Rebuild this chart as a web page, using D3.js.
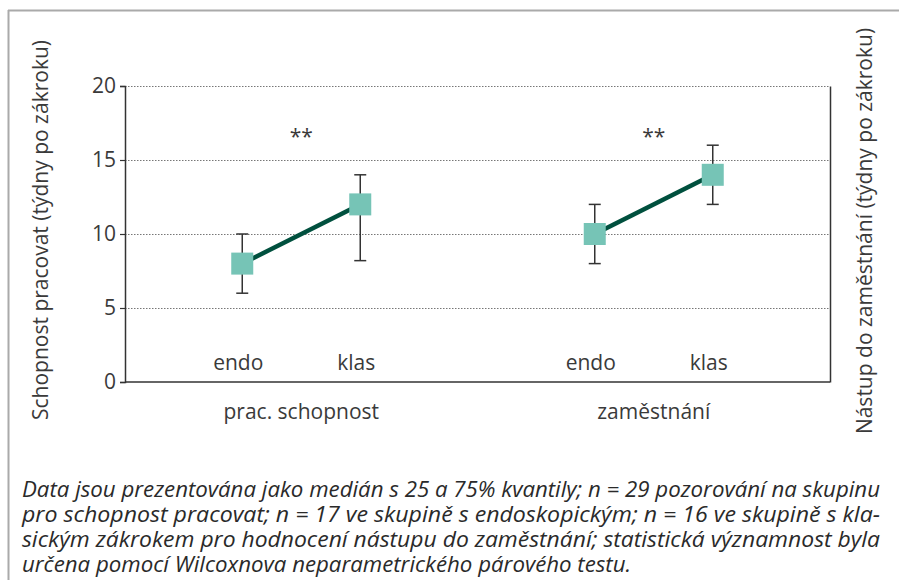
<!DOCTYPE html>
<html>
<head>
<meta charset="utf-8">
<script src="https://cdn.jsdelivr.net/npm/d3@7"></script>
<style>
  body { margin: 0; background: #fff; }
  svg { display: block; }
  text { font-family: "Open Sans", "Noto Sans", sans-serif; fill: #3a3a3a; }
  .caption { font-family: "Open Sans", "Noto Sans", sans-serif; font-style: italic; font-size: 21px; fill: #2a2a2a; }
</style>
</head>
<body>
<div id="chart"></div>
<script>
// data
const groups = ["prac. schopnost", "zaměstnání"];
const subgroups = ["endo", "klas"];
const medians = [[8, 12], [10, 14]];
const q25 = [[6, 8.2], [8, 12]];
const q75 = [[10, 14], [12, 16]];
const significance = ["**", "**"];
const yTicks = [0, 5, 10, 15, 20];
const leftTitle = "Schopnost pracovat (týdny po zákroku)";
const rightTitle = "Nástup do zaměstnání (týdny po zákroku)";
const captionLines = [
  "Data jsou prezentována jako medián s 25 a 75% kvantily; n = 29 pozorování na skupinu",
  "pro schopnost pracovat; n = 17 ve skupině s endoskopickým; n = 16 ve skupině s kla-",
  "sickým zákrokem pro hodnocení nástupu do zaměstnání; statistická významnost byla",
  "určena pomocí Wilcoxnova neparametrického párového testu."
];

const width = 899, height = 580;
const margin = {top: 86, right: 69, bottom: 198, left: 125};
const innerW = width - margin.left - margin.right;
const innerH = height - margin.top - margin.bottom;

const svg = d3.select("#chart").append("svg")
  .attr("width", width)
  .attr("height", height);

// outer frame (top and left edges visible)
svg.append("line").attr("x1", 8).attr("x2", width).attr("y1", 10.5).attr("y2", 10.5)
  .attr("stroke", "#aaa").attr("stroke-width", 2);
svg.append("line").attr("x1", 8.5).attr("x2", 8.5).attr("y1", 10).attr("y2", height)
  .attr("stroke", "#aaa").attr("stroke-width", 2);

const chart = svg.append("g")
  .attr("transform", `translate(${margin.left}, ${margin.top})`);

const x0 = d3.scaleBand().domain(groups).range([0, innerW]);
const x1 = d3.scalePoint().domain(subgroups).range([-59, 59]);
const y = d3.scaleLinear().domain([0, 20]).range([innerH, 0]);

// dotted grid
chart.append("g")
  .selectAll("line")
  .data(yTicks.filter(d => d > 0))
  .enter().append("line")
  .attr("x1", 0).attr("x2", innerW)
  .attr("y1", d => y(d) + 0.5).attr("y2", d => y(d) + 0.5)
  .attr("stroke", "#777")
  .attr("stroke-width", 1)
  .attr("stroke-dasharray", "1.5,1.5");

// left axis
const yAxis = chart.append("g")
  .call(d3.axisLeft(y).tickValues(yTicks).tickSize(5).tickPadding(4));
yAxis.select(".domain").attr("stroke", "#333").attr("stroke-width", 1.5);
yAxis.selectAll(".tick line").attr("stroke", "#333").attr("stroke-width", 1.2);
yAxis.selectAll(".tick text")
  .style("font-family", "'Open Sans', 'Noto Sans', sans-serif")
  .style("font-size", "21px")
  .attr("fill", "#3a3a3a");

// right axis line (no labels)
const yAxisR = chart.append("g")
  .attr("transform", `translate(${innerW}, 0)`)
  .call(d3.axisRight(y).tickValues([]).tickSizeOuter(0));
yAxisR.select(".domain").attr("stroke", "#333").attr("stroke-width", 1.5);

// bottom axis line
chart.append("line")
  .attr("x1", 0).attr("x2", innerW)
  .attr("y1", innerH).attr("y2", innerH)
  .attr("stroke", "#333").attr("stroke-width", 1.5);

// build points
const points = [];
groups.forEach((g, gi) => {
  subgroups.forEach((s, si) => {
    points.push({
      group: g, sub: s,
      x: x0(g) + x0.bandwidth() / 2 + x1(s),
      med: medians[gi][si], lo: q25[gi][si], hi: q75[gi][si]
    });
  });
});

// connecting lines
groups.forEach(g => {
  const pts = points.filter(p => p.group === g);
  chart.append("path")
    .datum(pts)
    .attr("fill", "none")
    .attr("stroke", "#00503e")
    .attr("stroke-width", 4.5)
    .attr("d", d3.line().x(d => d.x).y(d => y(d.med)));
});

// error bars
const bars = chart.append("g").selectAll("g")
  .data(points)
  .enter().append("g");
bars.append("line")
  .attr("x1", d => d.x).attr("x2", d => d.x)
  .attr("y1", d => y(d.lo)).attr("y2", d => y(d.hi))
  .attr("stroke", "#333").attr("stroke-width", 1.5);
bars.append("line")
  .attr("x1", d => d.x - 6).attr("x2", d => d.x + 6)
  .attr("y1", d => y(d.hi)).attr("y2", d => y(d.hi))
  .attr("stroke", "#333").attr("stroke-width", 1.5);
bars.append("line")
  .attr("x1", d => d.x - 6).attr("x2", d => d.x + 6)
  .attr("y1", d => y(d.lo)).attr("y2", d => y(d.lo))
  .attr("stroke", "#333").attr("stroke-width", 1.5);

// median squares
const sq = 22;
chart.append("g").selectAll("rect")
  .data(points)
  .enter().append("rect")
  .attr("x", d => d.x - sq / 2)
  .attr("y", d => y(d.med) - sq / 2)
  .attr("width", sq).attr("height", sq)
  .attr("fill", "#76c4b6");

// subgroup labels
chart.append("g").selectAll("text")
  .data(points)
  .enter().append("text")
  .attr("x", d => d.x - 4)
  .attr("y", innerH - 12)
  .attr("text-anchor", "middle")
  .style("font-size", "21px")
  .text(d => d.sub);

// group labels
chart.append("g").selectAll("text")
  .data(groups)
  .enter().append("text")
  .attr("x", d => x0(d) + x0.bandwidth() / 2)
  .attr("y", innerH + 37)
  .attr("text-anchor", "middle")
  .style("font-size", "21px")
  .text(d => d);

// significance marks
chart.append("g").selectAll("text")
  .data(groups)
  .enter().append("text")
  .attr("x", d => x0(d) + x0.bandwidth() / 2)
  .attr("y", 58)
  .attr("text-anchor", "middle")
  .style("font-size", "21px")
  .text((d, i) => significance[i]);

// axis titles
svg.append("text")
  .attr("transform", `translate(48, ${230}) rotate(-90)`)
  .attr("text-anchor", "middle")
  .style("font-size", "21px")
  .text(leftTitle);
svg.append("text")
  .attr("transform", `translate(872, ${231}) rotate(-90)`)
  .attr("text-anchor", "middle")
  .style("font-size", "21px")
  .text(rightTitle);

// caption: condensed italic, justified except last line
const capBase = [497, 522, 547, 572];
const capW = 858;
const capText = svg.append("g").selectAll("text")
  .data(captionLines)
  .enter().append("text")
  .attr("class", "caption")
  .attr("x", 22)
  .attr("y", (d, i) => capBase[i])
  .text(d => d);
const nat = capText.nodes().map(n => n.getComputedTextLength());
const squeeze = capW / nat[0];
capText.each(function (d, i) {
  const len = i < captionLines.length - 1 ? capW : nat[i] * squeeze;
  d3.select(this).attr("textLength", len).attr("lengthAdjust", "spacingAndGlyphs");
});
</script>
</body>
</html>
